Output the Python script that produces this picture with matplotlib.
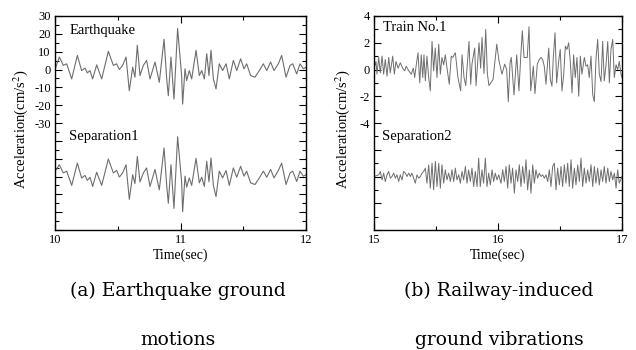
import matplotlib
matplotlib.use("Agg")
import matplotlib.pyplot as plt
from matplotlib.ticker import MultipleLocator

plt.rcParams["font.family"] = ["Liberation Serif", "DejaVu Serif"]

# ── (a) earthquake record (cm/s^2) ───────────────────────────────────────────
eq_time = [10.000, 10.035, 10.066, 10.093, 10.133, 10.178, 10.212, 10.239, 10.258, 10.279,
           10.300, 10.332, 10.372, 10.425, 10.465, 10.491, 10.513, 10.539, 10.566, 10.592,
           10.619, 10.637, 10.656, 10.677, 10.704, 10.730, 10.757, 10.797, 10.831, 10.869,
           10.890, 10.903, 10.924, 10.948, 10.977, 11.009, 11.017, 11.036, 11.049, 11.070,
           11.089, 11.124, 11.150, 11.169, 11.190, 11.209, 11.227, 11.243, 11.262, 11.283,
           11.309, 11.336, 11.363, 11.389, 11.421, 11.448, 11.479, 11.506, 11.527, 11.559,
           11.594, 11.628, 11.660, 11.687, 11.718, 11.745, 11.780, 11.806, 11.841, 11.873,
           11.894, 11.926, 11.952, 11.979, 12.000]
eq_accel = [0.0, 7.0, 2.3, 3.2, -5.3, 7.9, -0.6, 0.8, -1.9, -0.6,
            -5.3, 2.6, -5.3, 10.2, 2.3, 3.2, 0.0, 2.3, 7.0, -11.9,
            1.3, -4.3, 13.6, -3.4, 2.3, 5.1, -5.3, 4.2, -7.2, 17.0,
            -5.3, -14.7, 7.0, -16.6, 23.0, -3.4, -19.4, 0.4, -6.2, -0.6,
            -5.3, 10.8, -3.4, -0.6, -5.3, 8.9, -3.4, 10.8, -5.3, -10.9,
            3.2, -0.6, 3.2, -5.3, 5.1, -0.6, 6.0, 0.4, 3.2, -3.4,
            -4.3, -0.6, 3.2, -0.6, 4.2, -0.6, 3.2, 7.9, -4.3, 2.3,
            3.2, -2.5, 3.2, 0.4, 1.3]
sep1_accel = [2.8, 6.6, 2.0, 3.0, -5.0, 7.5, -0.8, 0.6, -2.2, -0.4,
              -5.6, 2.4, -5.0, 9.8, 2.0, 3.4, -0.3, 2.0, 6.6, -12.8,
              1.0, -4.0, 11.3, -3.0, 2.0, 4.8, -5.6, 4.0, -7.5, 16.0,
              -5.0, -15.0, 6.6, -17.9, 22.3, -3.0, -19.8, 0.2, -6.0, -0.8,
              -5.0, 10.2, -3.6, -0.4, -5.6, 8.5, -3.0, 10.4, -5.0, -11.3,
              3.0, -0.8, 3.4, -5.0, 4.8, -0.4, 5.7, 0.2, 3.0, -3.6,
              -4.5, -0.8, 3.0, -0.4, 4.0, -0.8, 3.4, 7.5, -4.5, 2.0,
              3.0, -2.8, 3.0, 0.2, 1.0]

# ── (b) railway-induced record (cm/s^2) ─────────────────────────────────────
train_time = [15.006, 15.016, 15.024, 15.038, 15.051, 15.065, 15.078, 15.091, 15.105, 15.119,
              15.131, 15.151, 15.164, 15.177, 15.194, 15.212, 15.231, 15.248, 15.260, 15.280,
              15.301, 15.317, 15.328, 15.341, 15.355, 15.369, 15.381, 15.393, 15.403, 15.414,
              15.427, 15.441, 15.454, 15.468, 15.481, 15.494, 15.508, 15.522, 15.535, 15.548,
              15.562, 15.575, 15.589, 15.607, 15.623, 15.635, 15.656, 15.677, 15.699, 15.710,
              15.726, 15.740, 15.766, 15.780, 15.790, 15.812, 15.823, 15.847, 15.860, 15.871,
              15.887, 15.901, 15.914, 15.927, 15.960, 15.990, 16.008, 16.032, 16.054, 16.070,
              16.083, 16.097, 16.107, 16.129, 16.151, 16.169, 16.183, 16.196, 16.210, 16.236,
              16.250, 16.264, 16.285, 16.298, 16.317, 16.333, 16.347, 16.360, 16.373, 16.387,
              16.409, 16.422, 16.435, 16.446, 16.460, 16.473, 16.489, 16.502, 16.516, 16.530,
              16.543, 16.556, 16.570, 16.583, 16.597, 16.610, 16.623, 16.637, 16.651, 16.664,
              16.677, 16.696, 16.710, 16.723, 16.736, 16.750, 16.764, 16.777, 16.790, 16.804,
              16.817, 16.831, 16.844, 16.857, 16.871, 16.885, 16.898, 16.911, 16.925, 16.938,
              16.952, 16.965, 16.978, 16.992, 17.000]
train_accel = [0.25, 0.6, -0.35, 0.9, -0.25, 1.0, -0.35, 0.75, -0.5, 0.9,
               -0.25, 1.0, -0.35, 0.6, 0.1, 0.5, 0.1, -0.1, 0.25, -0.1,
               -0.35, 0.1, -0.6, 0.35, 1.25, -1.0, 1.1, -0.6, 1.1, -0.85,
               1.0, -0.6, -1.6, 2.1, -0.1, 1.6, -0.6, 1.9, -0.35, 0.9,
               0.35, 1.1, 0.1, -1.1, 1.0, 0.9, 1.25, -0.6, -1.6, 1.1,
               -0.6, -1.2, 2.1, -1.1, 0.4, 1.6, -1.2, 2.0, 0.1, 2.4,
               -0.3, 3.0, -0.3, -1.2, -0.75, 1.9, 0.65, -0.35, 0.4, 0.0,
               -2.4, 0.5, 0.9, -1.9, 1.1, -1.6, 0.9, 2.9, 0.9, 0.9,
               3.2, -1.6, 0.25, -1.8, 0.4, 0.75, 0.9, 0.75, 0.25, -1.1,
               1.6, -0.75, -1.25, 0.9, 2.75, -1.0, 0.6, 1.5, -1.6, -0.35,
               1.75, 1.5, 2.0, 0.6, -1.75, 1.1, -0.6, 0.9, -2.0, 1.0,
               -0.35, 0.9, 0.25, 0.35, -0.6, 1.0, -1.9, -2.4, 0.75, 2.25,
               -0.35, -0.9, 2.1, -0.85, 0.35, 2.1, -1.0, 1.5, 2.25, -0.6,
               0.35, 0.0, 0.6, -0.35, -0.6]

sep2_time = [15.000, 15.038, 15.051, 15.065, 15.078, 15.091, 15.105, 15.118, 15.132, 15.145,
             15.159, 15.172, 15.185, 15.199, 15.212, 15.226, 15.239, 15.253, 15.266, 15.280,
             15.293, 15.306, 15.320, 15.333, 15.347, 15.360, 15.374, 15.387, 15.401, 15.414,
             15.427, 15.441, 15.454, 15.468, 15.481, 15.495, 15.508, 15.522, 15.535, 15.548,
             15.562, 15.575, 15.589, 15.602, 15.616, 15.629, 15.643, 15.656, 15.669, 15.683,
             15.696, 15.710, 15.723, 15.737, 15.750, 15.763, 15.777, 15.790, 15.804, 15.817,
             15.831, 15.844, 15.857, 15.871, 15.884, 15.898, 15.911, 15.925, 15.938, 15.952,
             15.965, 15.978, 15.992, 16.006, 16.024, 16.038, 16.051, 16.065, 16.078, 16.091,
             16.105, 16.118, 16.132, 16.145, 16.159, 16.172, 16.185, 16.199, 16.212, 16.226,
             16.239, 16.253, 16.266, 16.280, 16.293, 16.306, 16.320, 16.333, 16.347, 16.360,
             16.374, 16.387, 16.401, 16.414, 16.427, 16.441, 16.454, 16.468, 16.481, 16.495,
             16.508, 16.521, 16.535, 16.548, 16.562, 16.575, 16.589, 16.602, 16.616, 16.629,
             16.643, 16.656, 16.669, 16.683, 16.696, 16.710, 16.723, 16.736, 16.750, 16.764,
             16.777, 16.790, 16.804, 16.817, 16.831, 16.844, 16.857, 16.871, 16.885, 16.898,
             16.911, 16.925, 16.938, 16.952, 16.965, 16.978, 17.000]
sep2_accel = [0.0, 0.125, 0.375, -0.25, 0.25, -0.375, 0.125, 0.375, -0.125, 0.0,
              0.25, -0.125, 0.125, -0.375, 0.125, -0.25, 0.375, 0.25, 0.0, 0.25,
              0.0, 0.25, -0.125, -0.5, 0.125, -0.125, 0.0, 0.25, 0.375, 0.625,
              -0.5, 0.875, -0.875, 1.0, -1.0, 1.125, -0.75, 1.0, -0.875, 0.875,
              -0.5, 0.5, -0.25, 0.25, -0.375, 0.5, -0.375, 0.625, -0.25, 0.125,
              -0.5, 0.375, -0.25, 0.75, -0.5, 0.5, -0.375, 0.625, -0.75, 0.375,
              -0.75, 1.375, -0.75, 0.5, -0.5, 1.375, -0.75, 0.25, -0.625, 0.5,
              -0.375, 0.25, -0.25, 0.125, -0.5, 0.5, -0.375, 0.75, -0.875, 0.875,
              -0.5, 0.625, -1.25, 0.5, -0.375, 0.875, -0.75, 0.75, -0.5, 1.25,
              -1.0, 0.5, -1.25, 0.875, -0.5, 0.5, -0.125, 0.25, 0.0, 0.125,
              -0.125, 0.125, -0.375, 0.5, -0.75, 0.75, 1.0, -1.0, 0.625, -0.625,
              0.75, -0.75, 0.875, -0.5, 1.0, -0.75, 1.25, -0.875, 0.625, -0.625,
              0.875, -0.375, 1.375, -0.75, 0.625, -0.5, 0.5, -0.375, 0.875, -0.75,
              0.75, -0.5, 0.625, -0.625, 0.5, -0.375, 0.75, -0.5, 0.625, -0.375,
              0.375, -0.25, 0.25, -0.875, 0.5, -0.5, 0.0]

# vertical shift used to stack the lower trace under the upper one
SEP1_SHIFT = -60
SEP2_SHIFT = -8

LINE = "#6e6e6e"


def style_axes(ax, xlim, ylim, xmaj, ymaj, ylabels):
    ax.set_xlim(*xlim)
    ax.set_ylim(*ylim)
    ax.xaxis.set_major_locator(MultipleLocator(xmaj))
    ax.xaxis.set_minor_locator(MultipleLocator(xmaj / 2))
    ax.yaxis.set_major_locator(MultipleLocator(ymaj))
    ax.yaxis.set_minor_locator(MultipleLocator(ymaj / 2))
    ax.tick_params(which="both", direction="in", top=True, right=True,
                   labelsize=9, pad=3)
    ax.tick_params(which="major", length=5, width=0.8)
    ax.tick_params(which="minor", length=3, width=0.8)
    ax.set_yticks(ax.get_yticks())
    ax.set_yticklabels([f"{v:g}" if v in ylabels else "" for v in ax.get_yticks()])
    ax.set_ylim(*ylim)
    for s in ax.spines.values():
        s.set_linewidth(1.0)
    ax.set_xlabel("Time(sec)", fontsize=10)
    ax.xaxis.set_label_coords(0.5, -0.085)
    ax.set_ylabel("Acceleration(cm/s$^2$)", fontsize=10.5)


plt.rcParams["mathtext.fontset"] = "stix"

fig = plt.figure(figsize=(6.36, 3.5), dpi=100)
ax1 = fig.add_axes([55 / 636, 120 / 350, 251 / 636, 214 / 350])
ax2 = fig.add_axes([374 / 636, 120 / 350, 248 / 636, 214 / 350])

# (a)
ax1.plot(eq_time, eq_accel, color=LINE, lw=0.8)
ax1.plot(eq_time, [v + SEP1_SHIFT for v in sep1_accel], color=LINE, lw=0.8)
style_axes(ax1, (10, 12), (-90, 30), 1, 10, [30, 20, 10, 0, -10, -20, -30])
ax1.yaxis.set_label_coords(-0.1, 0.47)
ax1.text(0.057, 0.93, "Earthquake", transform=ax1.transAxes, fontsize=10.5,
         va="center", ha="left")
ax1.text(0.057, 0.435, "Separation1", transform=ax1.transAxes, fontsize=10.5,
         va="center", ha="left")

# (b)
ax2.plot(train_time, train_accel, color=LINE, lw=0.7)
ax2.plot(sep2_time, [v + SEP2_SHIFT for v in sep2_accel], color=LINE, lw=0.7)
style_axes(ax2, (15, 17), (-12, 4), 1, 2, [4, 2, 0, -2, -4])
ax2.yaxis.set_label_coords(-0.09, 0.47)
ax2.text(0.036, 0.944, "Train No.1", transform=ax2.transAxes, fontsize=10.5,
         va="center", ha="left")
ax2.text(0.032, 0.435, "Separation2", transform=ax2.transAxes, fontsize=10.5,
         va="center", ha="left")

# captions
cap = dict(fontsize=13.5, family="DejaVu Serif", ha="center", va="center")
fig.text(178 / 636, 1 - 291 / 350, "(a) Earthquake ground", **cap)
fig.text(178 / 636, 1 - 340 / 350, "motions", **cap)
fig.text(499 / 636, 1 - 291 / 350, "(b) Railway-induced", **cap)
fig.text(499 / 636, 1 - 340 / 350, "ground vibrations", **cap)

fig.savefig("out.png", dpi=100)
